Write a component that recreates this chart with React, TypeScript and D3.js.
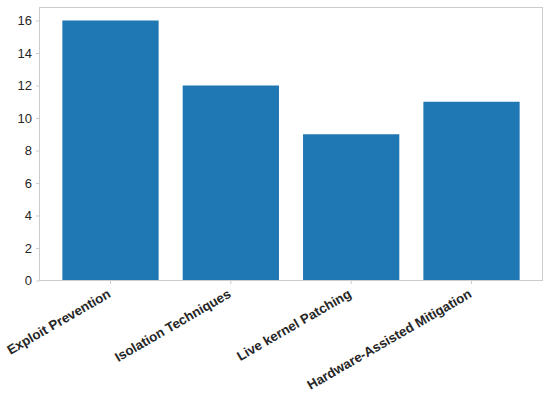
import { useRef, useEffect } from 'react';
import * as d3 from 'd3';

const categories = ['Exploit Prevention', 'Isolation Techniques', 'Live kernel Patching', 'Hardware-Assisted Mitigation'];
const counts = [16, 12, 9, 11];
const yTicks = [0, 2, 4, 6, 8, 10, 12, 14, 16];

const width = 550;
const height = 396;

const App = () => {
  const svgRef = useRef<SVGSVGElement | null>(null);

  useEffect(() => {
    const svg = d3.select(svgRef.current);
    svg.selectAll('*').remove();

    const margin = { top: 7.5, right: 7.5, bottom: 115.5, left: 39.5 };
    const frameColor = '#cccccc';
    const textColor = '#262626';

    const x = d3.scaleBand<string>()
      .domain(categories)
      .range([margin.left, width - margin.right])
      .paddingInner(0.2)
      .paddingOuter(0.19);

    const y = d3.scaleLinear()
      .domain([0, 16.8])
      .range([height - margin.bottom, margin.top]);

    svg.selectAll('.bar')
      .data(counts)
      .enter()
      .append('rect')
      .attr('class', 'bar')
      .attr('x', (_, i) => x(categories[i]) as number)
      .attr('y', d => y(d))
      .attr('width', x.bandwidth())
      .attr('height', d => y(0) - y(d))
      .attr('fill', '#1f77b4');

    // frame
    svg.append('rect')
      .attr('x', margin.left)
      .attr('y', margin.top)
      .attr('width', width - margin.left - margin.right)
      .attr('height', height - margin.top - margin.bottom)
      .attr('fill', 'none')
      .attr('stroke', frameColor)
      .attr('stroke-width', 1);

    const yAxis = svg.append('g')
      .attr('transform', `translate(${margin.left},0)`)
      .call(d3.axisLeft(y).tickValues(yTicks).tickSize(3.5).tickPadding(4).tickFormat(d3.format('d')));
    yAxis.select('.domain').remove();
    yAxis.selectAll('line').attr('stroke', frameColor);
    yAxis.selectAll('text')
      .attr('fill', textColor)
      .style('font-family', 'Liberation Sans, Arial, sans-serif')
      .style('font-size', '13px');

    const xAxis = svg.append('g')
      .attr('transform', `translate(0,${height - margin.bottom})`)
      .call(d3.axisBottom(x).tickSize(3.5).tickPadding(4));
    xAxis.select('.domain').remove();
    xAxis.selectAll('line').attr('stroke', frameColor);
    xAxis.selectAll('text')
      .attr('fill', textColor)
      .attr('y', 0)
      .attr('dy', 0)
      .attr('transform', 'translate(1,16) rotate(-30)')
      .style('text-anchor', 'end')
      .style('font-family', 'Liberation Sans, Arial, sans-serif')
      .style('font-weight', 'bold')
      .style('font-size', '13.3px');
  }, []);

  return (
    <svg ref={svgRef} width={width} height={height} style={{ position: 'absolute', left: 0, top: 0, background: '#fff' }}></svg>
  );
};

export default App;
